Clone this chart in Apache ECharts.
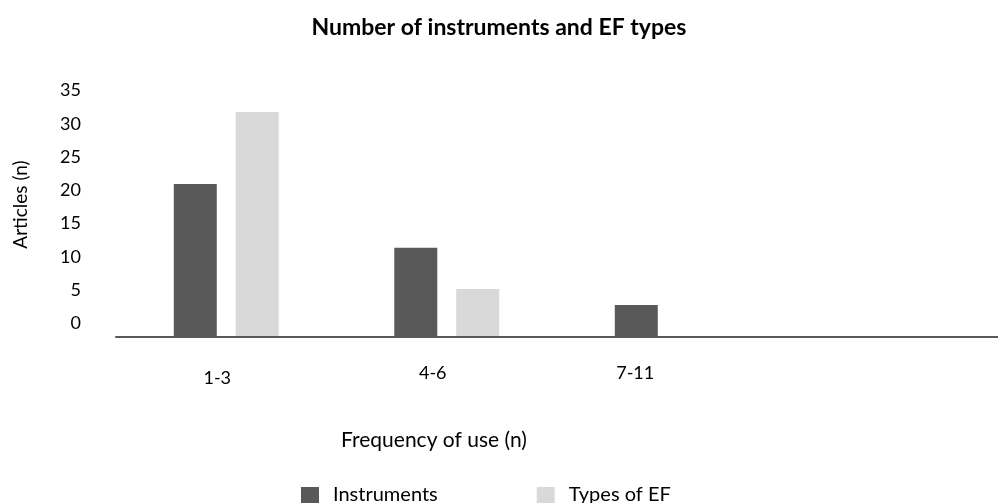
<!DOCTYPE html>
<html>
<head>
<meta charset="utf-8">
<script src="https://cdn.jsdelivr.net/npm/echarts@6/dist/echarts.min.js"></script>
<style>
  html, body { margin: 0; padding: 0; background: #fff; }
  #chart { width: 998px; height: 503px; }
</style>
</head>
<body>
<div id="chart"></div>
<script>
// frequency groups (last one is an empty slot, as in the original figure)
var categories = ['1-3', '4-6', '7-11', ''];
var instruments = [23, 13.4, 4.8, null];
var typesOfEF = [33.8, 7.2, 0, null];
var yTicks = [0, 5, 10, 15, 20, 25, 30, 35];

var myChart = echarts.init(document.getElementById('chart'));

var font = 'Lato';

var option = {
    backgroundColor: '#fff',
    animation: false,
    title: {
        text: 'Number of instruments and EF types',
        left: 'center',
        top: 11,
        textStyle: {
            fontFamily: font,
            fontWeight: 'bold',
            fontSize: 23,
            color: '#000'
        }
    },
    legend: {
        data: ['Instruments', 'Types of EF'],
        left: 296,
        top: 480,
        itemWidth: 18,
        itemHeight: 16,
        itemGap: 99,
        icon: 'rect',
        textStyle: {
            fontFamily: font,
            fontSize: 20,
            color: '#000',
            padding: [0, 0, 0, 9]
        }
    },
    grid: {
        left: 116,
        right: 0,
        top: 104,
        bottom: 166,
        containLabel: false
    },
    xAxis: {
        type: 'category',
        data: categories,
        z: 5,
        name: 'Frequency of use (n)',
        nameLocation: 'middle',
        nameGap: 93,
        nameTextStyle: {
            fontFamily: font,
            fontSize: 21,
            color: '#000',
            padding: [0, 246, 0, 0]
        },
        axisLine: { lineStyle: { color: '#595959', width: 2 } },
        axisTick: { show: false },
        axisLabel: {
            margin: 27,
            interval: 0,
            fontFamily: font,
            fontSize: 18,
            color: '#000',
            formatter: function (v, i) {
                return v ? '{c' + i + '|' + v + '}' : '';
            },
            rich: {
                c0: { fontFamily: font, fontSize: 18, color: '#000', padding: [5, 18, 0, 0] },
                c1: { fontFamily: font, fontSize: 18, color: '#000', padding: [0, 28, 0, 0] },
                c2: { fontFamily: font, fontSize: 18, color: '#000', padding: [0, 64, 0, 0] }
            }
        }
    },
    yAxis: {
        type: 'value',
        min: 0,
        max: 35,
        interval: 5,
        name: 'Articles (n)',
        nameLocation: 'middle',
        nameGap: 86,
        nameTextStyle: {
            fontFamily: font,
            fontSize: 19,
            color: '#000',
            padding: [0, 0, 0, 32]
        },
        axisLine: { show: false },
        axisTick: { show: false },
        splitLine: { show: false },
        axisLabel: {
            margin: 35,
            fontFamily: font,
            fontSize: 18,
            color: '#000',
            verticalAlign: 'bottom',
            lineHeight: 27,
            formatter: function (v) {
                return yTicks.indexOf(v) >= 0 ? String(v) : '';
            }
        }
    },
    series: [
        {
            name: 'Instruments',
            type: 'bar',
            data: instruments,
            barWidth: 43,
            barGap: '44%',
            itemStyle: { color: '#595959' }
        },
        {
            name: 'Types of EF',
            type: 'bar',
            data: typesOfEF,
            barWidth: 43,
            itemStyle: { color: '#d9d9d9' }
        }
    ]
};

myChart.setOption(option);
</script>
</body>
</html>
